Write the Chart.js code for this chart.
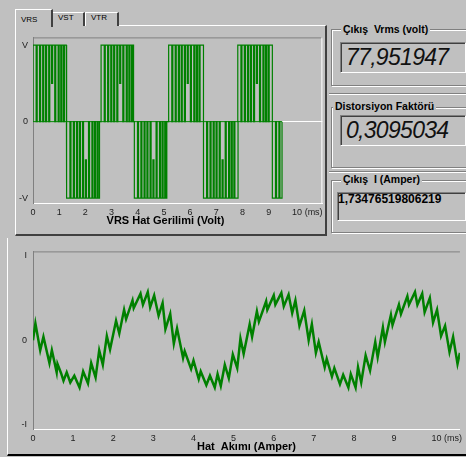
<!DOCTYPE html>
<html>
<head>
<meta charset="utf-8">
<script src="https://cdn.jsdelivr.net/npm/chart.js@4.4.1/dist/chart.umd.min.js"></script>
<style>
  html, body { margin: 0; padding: 0; }
  body { width: 466px; height: 457px; overflow: hidden; position: relative; background: #c0c0c0;
         font-family: "Liberation Sans", Arial, sans-serif; color: #000; }
  .abs { position: absolute; box-sizing: border-box; }
  .tabpanel { left: 15px; top: 25px; width: 312px; height: 211px;
              border-top: 1px solid #fff; border-left: 1px solid #fff;
              border-right: 2px solid #404040; border-bottom: 2px solid #404040; }
  .tab { background: #c0c0c0; border-top: 1px solid #fff; border-left: 1px solid #fff;
         border-right: 2px solid #404040; font-size: 8px; line-height: 10px; padding-left: 5px; }
  .botpanel { left: 7px; top: 238px; width: 470px; height: 218px;
              border-left: 1px solid #fff; border-bottom: 2px solid #000; }
  .group { border: 1px solid #808080; box-shadow: 1px 1px 0 #fff, inset 1px 1px 0 #fff; }
  .etch { height: 2px; border-top: 1px solid #808080; border-bottom: 1px solid #fff; }
  .gtitle { font-size: 10.5px; font-weight: bold; line-height: 12px; background: #c0c0c0; padding: 0 2px; white-space: pre; }
  .tbox { border-top: 1px solid #808080; border-left: 1px solid #808080;
          border-right: 1px solid #fff; border-bottom: 1px solid #fff;
          box-shadow: inset 1px 1px 0 #404040; }
  .lcd { font-style: italic; font-size: 23px; line-height: 23px; letter-spacing: -0.7px; white-space: pre; color: #111; }
  canvas { position: absolute; }
</style>
</head>
<body>
<div class="abs tabpanel"></div>
<div class="abs tab" style="left:52px;top:12px;width:33px;height:14px;">VST</div>
<div class="abs tab" style="left:85px;top:12px;width:34px;height:14px;">VTR</div>
<div class="abs tab" style="left:15px;top:9px;width:38px;height:18px;padding-top:5px;">VRS</div>

<div class="abs botpanel"></div>

<div class="abs group" style="left:331px;top:29px;width:150px;height:57px;"></div>
<div class="abs gtitle" style="left:341px;top:23px;">Çıkış  Vrms (volt)</div>
<div class="abs tbox" style="left:340px;top:42px;width:126px;height:31px;"></div>
<div class="abs lcd" style="left:346px;top:46px;">77,951947</div>

<div class="abs etch" style="left:329px;top:93px;width:140px;"></div>
<div class="abs group" style="left:331px;top:107px;width:150px;height:61px;"></div>
<div class="abs gtitle" style="left:333px;top:100px;">Distorsiyon Faktörü</div>
<div class="abs tbox" style="left:340px;top:115px;width:126px;height:31px;"></div>
<div class="abs lcd" style="left:346px;top:119px;">0,3095034</div>

<div class="abs etch" style="left:329px;top:171px;width:140px;"></div>
<div class="abs group" style="left:331px;top:180px;width:150px;height:53px;"></div>
<div class="abs gtitle" style="left:341px;top:173px;">Çıkış  I (Amper)</div>
<div class="abs tbox" style="left:337px;top:192px;width:129px;height:29px;"></div>
<div class="abs" style="left:338px;top:193px;font-size:12px;font-weight:bold;line-height:12px;">1,73476519806219</div>

<canvas id="vrs_chart" width="312" height="205" style="left:15px;top:27px;"></canvas>
<canvas id="current_chart" width="458" height="214" style="left:8px;top:240px;"></canvas>

<script>
//
// DATA — VRS line voltage (ms, fraction of V)
//
const vrsHalfStart = [0, 1.29, 2.60, 3.87, 5.18, 6.51, 7.82, 9.14];
const vrsHalfEnd   = [1.27, 2.54, 3.84, 5.11, 6.51, 7.83, 9.14, 9.51];
const vrsHalfSign  = [1, -1, 1, -1, 1, -1, 1, -1];
const vrsNotchAt    = [0.12, 0.25, 0.37, 0.48, 0.60, 0.71, 0.83, 0.96, 1.06, 1.16];
const vrsNotchLevel = [0, 0, 0, 0, 0, 0.5, 0, 0, 0, 0];
const vrsNotchWidth = 0.04;
const vrsZeroSpan   = [0, 9.51];
const vrsTicks      = [0, 1, 2, 3, 4, 5, 6, 7, 8, 9, 10];
const vrsYTicks     = [-1, 0, 1];
const vrsYLabels    = ["-V", "0", "V"];

//
// DATA — line current (ms, fraction of I)
//
const curT = [0.00,0.06,0.18,0.26,0.41,0.47,0.59,0.61,0.70,0.76,
              0.84,0.93,1.03,1.16,1.25,1.37,1.45,1.56,1.65,1.74,
              1.84,1.92,2.07,2.15,2.27,2.32,2.48,2.51,2.68,2.74,
              2.86,2.92,3.02,3.13,3.23,3.30,3.42,3.51,3.59,3.74,
              3.78,3.94,4.00,4.13,4.18,4.32,4.41,4.53,4.60,4.68,
              4.78,4.88,4.98,5.09,5.17,5.25,5.40,5.46,5.58,5.63,
              5.81,5.84,6.00,6.04,6.19,6.25,6.37,6.46,6.54,6.64,
              6.76,6.87,6.95,7.05,7.12,7.27,7.32,7.45,7.51,7.65,
              7.73,7.86,7.92,8.04,8.10,8.18,8.29,8.40,8.53,8.59,
              8.72,8.77,8.92,8.96,9.12,9.17,9.33,9.37,9.52,9.58,
              9.70,9.76,9.89,9.97,10.07,10.17,10.27,10.38,10.47,10.58,
              10.64,10.71];
const curI = [0.00,0.20,-0.12,0.04,-0.27,-0.12,-0.38,-0.28,-0.39,-0.48,
              -0.38,-0.50,-0.42,-0.56,-0.37,-0.51,-0.27,-0.44,-0.12,-0.29,
              0.05,-0.11,0.23,0.08,0.36,0.25,0.47,0.38,0.55,0.42,
              0.57,0.39,0.53,0.29,0.44,0.13,0.31,-0.04,0.14,-0.21,
              -0.13,-0.34,-0.24,-0.46,-0.37,-0.53,-0.42,-0.56,-0.40,-0.54,
              -0.29,-0.45,-0.17,-0.33,0.02,-0.16,0.19,0.04,0.34,0.22,
              0.46,0.36,0.53,0.42,0.56,0.40,0.54,0.32,0.47,0.17,
              0.35,0.00,0.19,-0.15,-0.02,-0.32,-0.22,-0.43,-0.33,-0.52,
              -0.41,-0.56,-0.40,-0.56,-0.32,-0.50,-0.18,-0.36,-0.02,-0.20,
              0.15,-0.02,0.30,0.18,0.42,0.31,0.52,0.42,0.57,0.42,
              0.55,0.33,0.50,0.21,0.36,0.05,0.17,-0.14,0.04,-0.28,
              -0.15,-0.39];
const curTicks   = [0, 1, 2, 3, 4, 5, 6, 7, 8, 9, 10];
const curYTicks  = [-1, 0, 1];
const curYLabels = ["-I", "0", "I"];

Chart.defaults.font.family = '"Liberation Sans", Arial, sans-serif';
Chart.defaults.color = "#222";

// build the stepped PWM trace from the half-cycle tables
const vrsPoints = [];
vrsHalfStart.forEach((s, i) => {
    const e = vrsHalfEnd[i];
    const sg = vrsHalfSign[i];
    vrsPoints.push({ x: s, y: 0 }, { x: s, y: sg });
    vrsNotchAt.forEach((o, k) => {
        const t = s + o;
        if (t + vrsNotchWidth >= e) return;
        const lv = sg * vrsNotchLevel[k];
        vrsPoints.push({ x: t, y: sg }, { x: t, y: lv },
                       { x: t + vrsNotchWidth, y: lv }, { x: t + vrsNotchWidth, y: sg });
    });
    vrsPoints.push({ x: e, y: sg }, { x: e, y: 0 });
});
const vrsZero = vrsZeroSpan.map(x => ({ x: x, y: 0 }));
const curPoints = curT.map((t, i) => ({ x: t, y: curI[i] }));

const msLabel = v => v === 10 ? "\u00a0\u00a0\u00a0\u00a0\u00a0\u00a0\u00a0\u00a0\u00a0\u00a010 (ms)" : String(v);

// top gray / right white plot frame lines
const plotFrame = {
    id: "plotFrame",
    beforeDatasetsDraw(chart, args, opts) {
        const { ctx, chartArea: a } = chart;
        ctx.save();
        ctx.lineWidth = 1;
        ctx.strokeStyle = "#808080";
        ctx.beginPath();
        ctx.moveTo(a.left, a.top + 0.5);
        ctx.lineTo(a.right, a.top + 0.5);
        ctx.stroke();
        if (opts.right) {
            ctx.strokeStyle = opts.right;
            ctx.beginPath();
            ctx.moveTo(a.right - 0.5, a.top);
            ctx.lineTo(a.right - 0.5, a.bottom);
            ctx.stroke();
        }
        ctx.restore();
    }
};

//
// VRS CHART
//
new Chart(document.getElementById("vrs_chart"), {
    type: "line",
    data: {
        datasets: [
            { data: vrsZero, borderColor: "#008000", borderWidth: 1, pointRadius: 0 },
            { data: vrsPoints, borderColor: "#008000", borderWidth: 1.2, pointRadius: 0 }
        ]
    },
    options: {
        responsive: false,
        animation: false,
        events: [],
        layout: { padding: { top: 3, right: 4, left: 0, bottom: 0 } },
        plugins: {
            legend: { display: false },
            tooltip: { enabled: false },
            plotFrame: { right: "#ffffff" }
        },
        scales: {
            x: {
                type: "linear",
                min: 0,
                max: 11.05,
                afterBuildTicks: s => { s.ticks = vrsTicks.map(v => ({ value: v })); },
                afterFit: s => { s.height = 29; },
                grid: { display: false, drawTicks: false },
                border: { color: "#ffffff", width: 1 },
                ticks: { autoSkip: false, maxRotation: 0, padding: 4, font: { size: 9 }, callback: msLabel },
                title: {
                    display: true,
                    text: "VRS Hat Gerilimi (Volt)\u00a0\u00a0\u00a0\u00a0\u00a0\u00a0\u00a0\u00a0",
                    font: { size: 11, weight: "bold" },
                    color: "#000",
                    padding: { top: 0, bottom: 4 }
                }
            },
            y: {
                min: -1.0625,
                max: 1.1,
                afterBuildTicks: s => { s.ticks = vrsYTicks.map(v => ({ value: v })); },
                afterFit: s => { s.width = 18; },
                grid: {
                    drawTicks: false,
                    color: c => (c.tick && c.tick.value === 0) ? "#ffffff" : "rgba(0,0,0,0)"
                },
                border: { color: "#808080", width: 1 },
                ticks: {
                    padding: 5,
                    font: { size: 9 },
                    callback: v => vrsYLabels[vrsYTicks.indexOf(v)]
                }
            }
        }
    },
    plugins: [plotFrame]
});

//
// CURRENT CHART
//
new Chart(document.getElementById("current_chart"), {
    type: "line",
    data: {
        datasets: [
            { data: curPoints, borderColor: "#008000", borderWidth: 2.5, pointRadius: 0, tension: 0 }
        ]
    },
    options: {
        responsive: false,
        animation: false,
        events: [],
        layout: { padding: { top: 7, right: 0, left: 0, bottom: 0 } },
        plugins: {
            legend: { display: false },
            tooltip: { enabled: false },
            plotFrame: {}
        },
        scales: {
            x: {
                type: "linear",
                min: 0,
                max: 10.64,
                afterBuildTicks: s => { s.ticks = curTicks.map(v => ({ value: v })); },
                afterFit: s => { s.height = 25; },
                grid: { display: false, drawTicks: false },
                border: { color: "#ffffff", width: 1 },
                ticks: { autoSkip: false, maxRotation: 0, padding: 4, font: { size: 9 }, callback: msLabel },
                title: {
                    display: true,
                    text: "Hat  Akımı (Amper)",
                    font: { size: 11, weight: "bold" },
                    color: "#000",
                    padding: { top: 0, bottom: 0 }
                }
            },
            y: {
                min: -1.05,
                max: 1.05,
                afterBuildTicks: s => { s.ticks = curYTicks.map(v => ({ value: v })); },
                afterFit: s => { s.width = 25; },
                grid: { display: false, drawTicks: false },
                border: { color: "#808080", width: 1 },
                ticks: {
                    padding: 6,
                    font: { size: 9 },
                    callback: v => curYLabels[curYTicks.indexOf(v)]
                }
            }
        }
    },
    plugins: [plotFrame]
});
</script>
</body>
</html>
